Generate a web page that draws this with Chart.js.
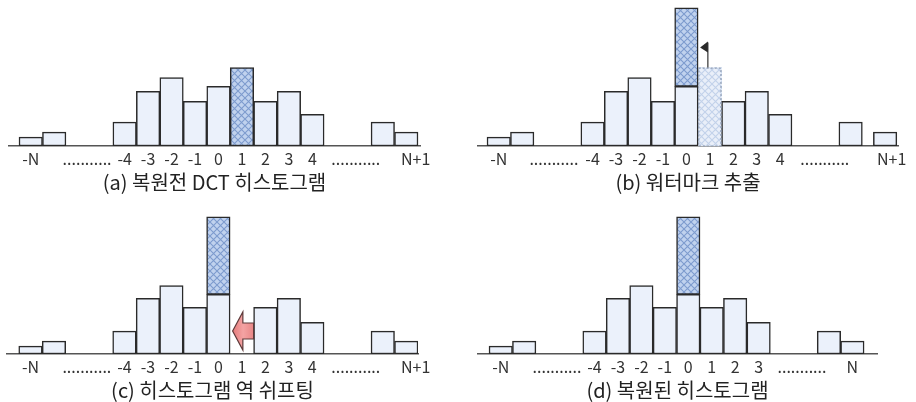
<!DOCTYPE html>
<html><head><meta charset="utf-8">
<script src="https://cdn.jsdelivr.net/npm/chart.js@4.4.1/dist/chart.umd.min.js"></script>
<style>
html,body{margin:0;padding:0;background:#fff;overflow:hidden;width:916px;height:402px;}
canvas{position:absolute;}
</style></head><body>
<canvas id="ca"></canvas>
<canvas id="cb"></canvas>
<canvas id="cc"></canvas>
<canvas id="cd"></canvas>
<script>
// ---------------- data ----------------
const dotsLabel = '...........';

// (a) 복원전 DCT 히스토그램
const aBinX = [0, 1, 4, 5, 6, 7, 8, 10, 11, 12, 15, 16];
const aBinCounts = [9, 14, 24, 55, 69, 45, 60, 45, 55, 32, 24, 14];
const aMarkX = [9];
const aMarkCounts = [79];
const aTickX = [0, 2.4, 4, 5, 6, 7, 8, 9, 10, 11, 12, 13.85, 16.4];
const aTickLabels = ['-N', dotsLabel, '-4', '-3', '-2', '-1', '0', '1', '2', '3', '4', dotsLabel, 'N+1'];

// (b) 워터마크 추출
const bBinX = [0, 1, 4, 5, 6, 7, 8, 10, 11, 12, 15, 16.47];
const bBinCounts = [9, 14, 24, 55, 69, 45, 60, 45, 55, 32, 24, 14];
const bMarkX = [8];
const bMarkCounts = [79];
const bGhostX = [9];
const bGhostCounts = [79];
const bTickX = [0, 2.35, 4, 5, 6, 7, 8, 9, 10, 11, 12, 13.9, 16.75];
const bTickLabels = ['-N', dotsLabel, '-4', '-3', '-2', '-1', '0', '1', '2', '3', '4', dotsLabel, 'N+1'];

// (c) 히스토그램 역 쉬프팅
const cBinX = [0, 1, 4, 5, 6, 7, 8, 10, 11, 12, 15, 16];
const cBinCounts = [8, 13, 23, 56, 69, 47, 60, 47, 56, 32, 23, 13];
const cMarkX = [8];
const cMarkCounts = [78];
const cTickX = [0, 2.4, 4, 5, 6, 7, 8, 9, 10, 11, 12, 13.85, 16.4];
const cTickLabels = ['-N', dotsLabel, '-4', '-3', '-2', '-1', '0', '1', '2', '3', '4', dotsLabel, 'N+1'];

// (d) 복원된 히스토그램
const dBinX = [0, 1, 4, 5, 6, 7, 8, 9, 10, 11, 14, 15];
const dBinCounts = [8, 13, 23, 56, 69, 47, 60, 47, 56, 32, 23, 13];
const dMarkX = [8];
const dMarkCounts = [78];
const dTickX = [0, 2.4, 4, 5, 6, 7, 8, 9, 10, 11, 12.85, 15];
const dTickLabels = ['-N', dotsLabel, '-4', '-3', '-2', '-1', '0', '1', '2', '3', dotsLabel, 'N'];

const yMax = 147;

// ---------------- helpers ----------------
function pts(xs, ys) { return xs.map((x, i) => ({ x: x, y: ys[i] })); }

function hatch(ctx, bg, line) {
  const s = 7;
  const c = document.createElement('canvas');
  c.width = s; c.height = s;
  const g = c.getContext('2d');
  g.fillStyle = bg; g.fillRect(0, 0, s, s);
  g.strokeStyle = line; g.lineWidth = 1.1;
  g.beginPath();
  g.moveTo(-1, -1); g.lineTo(s + 1, s + 1);
  g.moveTo(s + 1, -1); g.lineTo(-1, s + 1);
  g.stroke();
  return ctx.createPattern(c, 'repeat');
}

const decor = {
  id: 'decor',
  afterDatasetsDraw(chart, args, opts) {
    const ctx = chart.ctx;
    chart.data.datasets.forEach((ds, i) => {
      if (!ds.ghost) return;
      const meta = chart.getDatasetMeta(i);
      meta.data.forEach(el => {
        const p = el.getProps(['x', 'y', 'base', 'width'], true);
        ctx.save();
        ctx.strokeStyle = '#8d9bb3';
        ctx.lineWidth = 1.2;
        ctx.setLineDash([2, 2]);
        ctx.strokeRect(p.x - p.width / 2 + 0.6, p.y + 0.6, p.width - 1.2, p.base - p.y - 0.6);
        ctx.restore();
        if (opts.flag) {
          const lx = p.x - 2;
          ctx.save();
          ctx.strokeStyle = '#333';
          ctx.lineWidth = 1.2;
          ctx.beginPath();
          ctx.moveTo(lx, p.y);
          ctx.lineTo(lx, p.y - 25);
          ctx.stroke();
          ctx.fillStyle = '#2a2a2a';
          ctx.beginPath();
          ctx.moveTo(p.x - p.width / 2 + 2, p.y - 20);
          ctx.lineTo(lx, p.y - 26);
          ctx.lineTo(lx, p.y - 15);
          ctx.closePath();
          ctx.fill();
          ctx.restore();
        }
      });
    });
    if (opts.arrowAt !== undefined) {
      const xs = chart.scales.x, ys = chart.scales.y;
      const cx = xs.getPixelForValue(opts.arrowAt);
      const hw = xs.getPixelForValue(opts.arrowAt + 0.5) - cx;
      const base = ys.getPixelForValue(0);
      const tipX = cx - hw + 2.5, backX = cx + 1, endX = cx + hw;
      const tipY = base - 23, hTop = base - 42, hBot = base - 4, sTop = base - 31, sBot = base - 15;
      ctx.save();
      const grad = ctx.createLinearGradient(tipX, 0, endX, 0);
      grad.addColorStop(0, '#e47a7a');
      grad.addColorStop(0.5, '#f4a3a3');
      grad.addColorStop(1, '#e88686');
      ctx.fillStyle = grad;
      ctx.strokeStyle = '#5e3a3a';
      ctx.lineWidth = 1.2;
      ctx.beginPath();
      ctx.moveTo(tipX, tipY);
      ctx.lineTo(backX, hTop);
      ctx.lineTo(backX, sTop);
      ctx.lineTo(endX, sTop);
      ctx.lineTo(endX, sBot);
      ctx.lineTo(backX, sBot);
      ctx.lineTo(backX, hBot);
      ctx.closePath();
      ctx.fill();
      ctx.stroke();
      ctx.restore();
    }
  }
};

const FONT = '"Noto Sans CJK KR", "Noto Sans", sans-serif';

function makePanel(id, p) {
  const canvas = document.getElementById(id);
  canvas.width = p.w; canvas.height = p.h;
  canvas.style.left = p.left + 'px';
  canvas.style.top = p.top + 'px';
  const ctx = canvas.getContext('2d');
  const barStyle = { borderColor: '#2a2a2a', borderWidth: 1.5, borderSkipped: false };
  const datasets = [
    Object.assign({ data: pts(p.binX, p.binCounts), backgroundColor: '#ebf1fb' }, barStyle),
    Object.assign({ data: pts(p.markX, p.markCounts), backgroundColor: hatch(ctx, '#c0d2ee', '#7d9bcd') }, barStyle)
  ];
  if (p.ghostX) {
    datasets.push({ data: pts(p.ghostX, p.ghostCounts), backgroundColor: hatch(ctx, '#e9eff9', '#c2d1ea'),
      borderWidth: 0, ghost: true });
  }
  return new Chart(ctx, {
    type: 'bar',
    data: { datasets: datasets },
    options: {
      responsive: false,
      animation: false,
      devicePixelRatio: 1,
      categoryPercentage: 1.0,
      barPercentage: 1.0,
      layout: { padding: { left: p.padL, right: p.padR, top: 0, bottom: 0 } },
      scales: {
        x: {
          type: 'linear',
          stacked: true,
          offset: false,
          min: p.xMin, max: p.xMax,
          grid: { display: false, drawTicks: false },
          border: { display: true, color: '#555', width: 1.5 },
          afterBuildTicks: (scale) => { scale.ticks = p.tickX.map(v => ({ value: v })); },
          ticks: {
            autoSkip: false, maxRotation: 0, minRotation: 0, padding: 4,
            color: '#333', font: { family: FONT, size: 16, lineHeight: 1.125 },
            callback: (v, i) => p.tickLabels[i]
          }
        },
        y: { display: false, stacked: true, min: 0, max: yMax }
      },
      plugins: {
        legend: { display: false },
        tooltip: { enabled: false },
        title: {
          display: true, position: 'bottom', text: p.title, color: '#222',
          font: { family: FONT, size: 20, weight: 'normal', lineHeight: 1.0 },
          padding: { top: 0, bottom: 2 }
        },
        decor: p.decor || {}
      }
    },
    plugins: [decor]
  });
}

makePanel('ca', { left: 0, top: 0, w: 440, h: 194, padL: 9, padR: 20, xMin: -0.926, xMax: 16.585,
  binX: aBinX, binCounts: aBinCounts, markX: aMarkX, markCounts: aMarkCounts,
  tickX: aTickX, tickLabels: aTickLabels, title: '(a) 복원전 DCT 히스토그램' });

makePanel('cb', { left: 460, top: 0, w: 476, h: 194, padL: 18, padR: 38, xMin: -0.884, xMax: 17.02,
  binX: bBinX, binCounts: bBinCounts, markX: bMarkX, markCounts: bMarkCounts,
  ghostX: bGhostX, ghostCounts: bGhostCounts,
  tickX: bTickX, tickLabels: bTickLabels, title: '(b) 워터마크 추출', decor: { flag: true } });

makePanel('cc', { left: 0, top: 208, w: 436, h: 194, padL: 7, padR: 18, xMin: -1.0, xMax: 16.5,
  binX: cBinX, binCounts: cBinCounts, markX: cMarkX, markCounts: cMarkCounts,
  tickX: cTickX, tickLabels: cTickLabels, title: '(c) 히스토그램 역 쉬프팅', decor: { arrowAt: 9 } });

makePanel('cd', { left: 460, top: 208, w: 484, h: 194, padL: 18, padR: 67, xMin: -0.97, xMax: 16.05,
  binX: dBinX, binCounts: dBinCounts, markX: dMarkX, markCounts: dMarkCounts,
  tickX: dTickX, tickLabels: dTickLabels, title: '(d) 복원된 히스토그램' });
</script>
</body></html>
